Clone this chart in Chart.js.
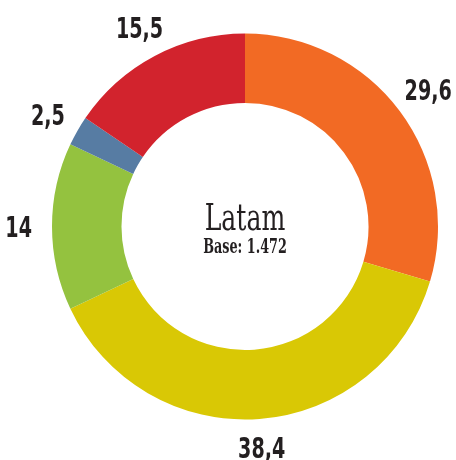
<!DOCTYPE html>
<html>
<head>
<meta charset="utf-8">
<script src="https://cdn.jsdelivr.net/npm/chart.js@4"></script>
<style>
  html, body { margin: 0; padding: 0; background: #ffffff; }
  #wrap { width: 456px; height: 460px; }
</style>
</head>
<body>
<div id="wrap"><canvas id="donutChart" width="456" height="460"></canvas></div>
<script>
// Latam share, clockwise from 12 o'clock
const segments = ["A", "B", "C", "D", "E"];
const shares = [29.6, 38.4, 14, 2.5, 15.5];
const sliceColors = ["#f26a24", "#d9c805", "#94c23f", "#577ca3", "#d2232d"];
const centerTitle = "Latam";
const centerSubtitle = "Base: 1.472";

// draw text squeezed horizontally (the original uses a condensed face)
function squeezedText(ctx, text, x, y, squeeze) {
  ctx.save();
  ctx.translate(x, y);
  ctx.scale(squeeze, 1);
  ctx.fillText(text, 0, 0);
  ctx.restore();
}

// labels sit outside the ring, formatted with a decimal comma
const outsideLabels = {
  id: "outsideLabels",
  afterDatasetsDraw(chart) {
    const ctx = chart.ctx;
    const meta = chart.getDatasetMeta(0);
    const squeeze = 0.66;
    ctx.save();
    ctx.font = "bold 29px 'DejaVu Sans', sans-serif";
    ctx.fillStyle = "#231f20";
    ctx.textAlign = "center";
    ctx.textBaseline = "alphabetic";
    meta.data.forEach((arc, i) => {
      const mid = (arc.startAngle + arc.endAngle) / 2;
      const text = String(shares[i]).replace(".", ",");
      const halfW = (ctx.measureText(text).width * squeeze) / 2;
      const r = arc.outerRadius + 28 + halfW * Math.abs(Math.cos(mid)) * 0.4;
      const x = arc.x + r * Math.cos(mid);
      const y = arc.y + r * Math.sin(mid);
      squeezedText(ctx, text, x, y + 10.5, squeeze);
    });
    ctx.restore();
  },
};

const centerText = {
  id: "centerText",
  afterDraw(chart) {
    const ctx = chart.ctx;
    const arc = chart.getDatasetMeta(0).data[0];
    ctx.save();
    ctx.fillStyle = "#231f20";
    ctx.textAlign = "center";
    ctx.textBaseline = "alphabetic";
    ctx.font = "37px 'DejaVu Serif', serif";
    squeezedText(ctx, centerTitle, arc.x, arc.y + 3, 0.68);
    ctx.font = "bold 20px 'DejaVu Serif', serif";
    squeezedText(ctx, centerSubtitle, arc.x, arc.y + 26, 0.64);
    ctx.restore();
  },
};

const ctx = document.getElementById("donutChart").getContext("2d");
new Chart(ctx, {
  type: "doughnut",
  data: {
    labels: segments,
    datasets: [
      {
        data: shares,
        backgroundColor: sliceColors,
        borderWidth: 0,
      },
    ],
  },
  options: {
    responsive: false,
    animation: false,
    radius: 193,
    cutout: "64%",
    layout: { padding: { left: 34, bottom: 7 } },
    plugins: {
      legend: { display: false },
      tooltip: { enabled: false },
    },
  },
  plugins: [outsideLabels, centerText],
});
</script>
</body>
</html>
